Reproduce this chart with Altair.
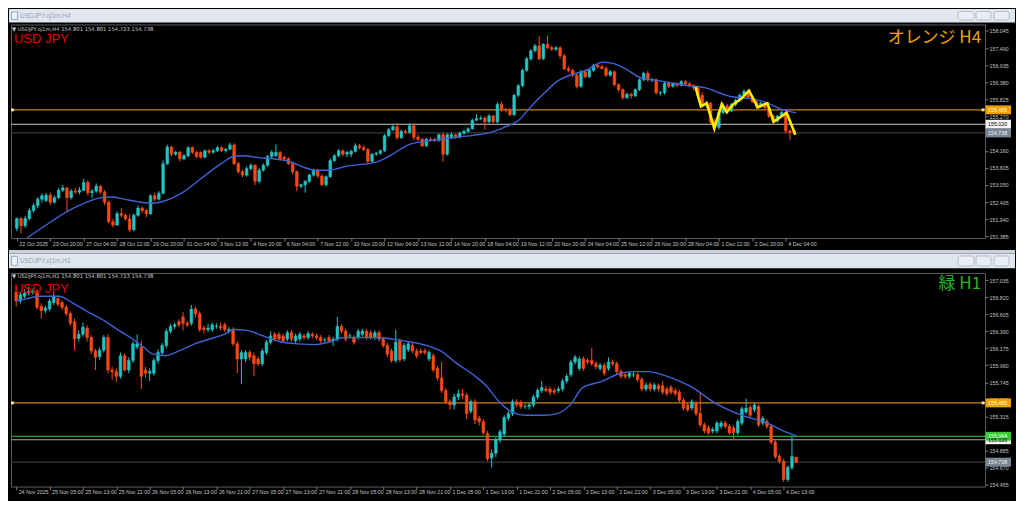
import altair as alt
import pandas as pd

# ---------------- H4 panel (top) ----------------
h4_open = [
151.65,151.96,151.73,151.96,152.22,152.38,152.59,152.55,152.72,152.49,
152.64,152.88,152.95,152.64,152.85,152.82,152.88,153.13,152.80,152.85,
153.01,152.82,152.49,151.86,151.75,152.12,152.07,151.95,151.60,152.07,
152.30,152.22,152.12,152.70,152.59,152.78,153.74,154.28,154.05,154.11,
153.90,154.00,154.26,154.11,154.10,153.95,154.16,154.11,154.16,154.26,
154.16,154.21,154.35,153.74,153.48,153.37,153.58,153.69,153.17,153.53,
153.69,153.97,154.00,154.11,153.95,153.90,153.74,153.48,153.01,153.06,
153.17,153.37,153.53,153.34,153.06,153.32,153.84,154.00,154.16,154.05,
154.05,154.14,154.32,154.26,154.20,153.82,154.05,154.08,154.16,154.65,
154.84,154.94,154.58,154.79,154.76,154.97,154.60,154.53,154.32,154.53,
154.52,154.50,154.68,154.05,154.60,154.68,154.60,154.73,154.79,154.87,
155.15,155.20,155.22,155.10,155.29,155.10,155.67,155.49,155.48,155.33,
155.96,156.27,156.77,157.14,157.40,157.56,157.14,157.61,157.50,157.45,
157.50,157.24,156.82,156.77,156.61,156.25,156.72,156.56,156.77,156.93,
156.88,156.83,156.61,156.72,156.30,156.14,155.88,155.99,155.94,156.14,
156.46,156.67,156.46,156.46,156.04,156.04,156.35,156.25,156.33,156.28,
156.40,156.33,156.28,156.20,155.95,155.65,155.70,155.10,154.92,155.40,
155.62,155.45,155.66,155.80,155.96,156.08,155.90,155.75,155.60,155.70,
155.55,155.28,155.12,155.28,155.40,154.80,154.801]
h4_high = [
152.00,152.00,152.05,152.30,152.45,152.65,152.78,152.80,152.80,152.70,
152.95,153.05,153.00,152.92,152.95,152.98,153.25,153.20,152.92,153.10,
153.05,152.88,152.55,151.95,152.20,152.30,152.12,152.10,152.12,152.38,
152.35,152.28,152.75,152.80,152.85,153.85,154.36,154.32,154.15,154.15,
154.05,154.30,154.30,154.15,154.14,154.20,154.20,154.22,154.32,154.30,
154.25,154.42,154.40,153.80,153.55,153.65,153.75,153.72,153.60,153.75,
154.02,154.18,154.37,154.15,154.00,153.95,153.78,153.52,153.10,153.20,
153.42,153.58,153.56,153.40,153.36,153.92,154.05,154.22,154.20,154.15,
154.20,154.40,154.38,154.34,154.25,154.08,154.12,154.20,154.70,154.90,
155.00,155.05,154.85,154.85,155.05,155.00,154.68,154.58,154.58,154.60,
154.58,154.72,154.75,154.72,154.75,154.72,154.78,154.84,154.92,155.20,
155.35,155.30,155.28,155.35,155.32,155.72,155.75,155.55,155.55,156.00,
156.32,156.82,157.20,157.45,157.62,157.87,157.65,157.90,157.56,157.55,
157.55,157.30,156.90,156.82,156.66,156.78,156.80,156.82,156.98,157.00,
156.95,156.90,156.78,156.76,156.35,156.18,156.05,156.04,156.18,156.50,
156.72,156.75,156.52,156.50,156.10,156.40,156.40,156.38,156.38,156.45,
156.44,156.38,156.32,156.28,156.05,155.78,155.74,155.20,155.45,155.70,
155.68,155.72,155.85,156.02,156.15,156.12,155.95,155.80,155.75,155.74,
155.60,155.35,155.32,155.45,155.44,154.85,154.801]
h4_low = [
151.55,151.49,151.66,151.90,152.15,152.30,152.48,152.50,152.40,152.45,
152.60,152.82,152.17,152.58,152.76,152.75,152.85,152.70,152.62,152.80,
152.75,152.40,151.80,151.68,151.72,152.00,151.90,151.52,151.55,152.02,
152.15,152.00,152.08,152.52,152.55,152.75,153.70,153.98,154.00,153.82,
153.85,153.95,154.05,153.92,153.90,153.92,154.05,154.06,154.12,154.12,
154.10,154.18,153.70,153.42,153.30,153.32,153.52,153.05,153.10,153.48,
153.64,153.92,153.96,153.85,153.85,153.70,153.40,152.85,152.95,152.80,
153.12,153.32,153.28,153.02,153.00,153.28,153.80,153.95,153.98,153.95,
153.95,154.10,154.20,154.15,153.72,153.78,154.00,154.03,154.12,154.60,
154.80,154.52,154.55,154.70,154.70,154.50,154.48,154.28,154.28,154.45,
154.44,154.45,153.80,154.00,154.55,154.55,154.56,154.68,154.74,154.85,
155.12,155.15,154.84,155.05,155.05,155.05,155.42,155.40,155.28,155.28,
155.90,156.22,156.72,157.08,157.35,157.10,157.10,157.45,157.40,157.40,
157.15,156.78,156.72,156.55,156.18,156.20,156.50,156.52,156.72,156.84,
156.80,156.55,156.56,156.25,156.08,155.82,155.84,155.85,155.90,156.10,
156.42,156.40,156.38,155.98,155.95,155.98,156.20,156.20,156.22,156.24,
156.28,156.22,156.12,155.90,155.58,155.55,155.02,154.78,154.85,155.35,
155.40,155.42,155.60,155.75,155.90,155.85,155.70,155.52,155.55,155.50,
155.22,155.00,155.08,155.24,154.72,154.50,154.723]
h4_close = [
151.96,151.73,151.96,152.22,152.38,152.59,152.70,152.72,152.49,152.64,
152.88,152.95,152.64,152.85,152.82,152.88,153.13,152.80,152.85,153.01,
152.82,152.49,151.86,151.75,152.12,152.07,151.95,151.60,152.07,152.30,
152.22,152.12,152.70,152.59,152.78,153.74,154.28,154.05,154.11,153.90,
154.00,154.26,154.11,153.97,153.95,154.16,154.11,154.16,154.26,154.16,
154.21,154.35,153.74,153.48,153.37,153.58,153.69,153.17,153.53,153.69,
153.97,154.11,154.11,153.90,153.90,153.74,153.48,153.01,153.06,153.17,
153.37,153.53,153.34,153.06,153.32,153.84,154.00,154.16,154.05,154.11,
154.14,154.32,154.26,154.20,153.82,154.05,154.08,154.16,154.65,154.84,
154.94,154.58,154.79,154.76,154.97,154.60,154.53,154.32,154.53,154.52,
154.50,154.68,154.05,154.68,154.68,154.60,154.73,154.79,154.87,155.15,
155.20,155.22,155.10,155.29,155.10,155.67,155.49,155.48,155.33,155.96,
156.27,156.77,157.14,157.40,157.56,157.14,157.61,157.50,157.45,157.50,
157.24,156.82,156.77,156.61,156.25,156.72,156.56,156.77,156.93,156.88,
156.83,156.61,156.72,156.30,156.14,155.88,155.99,155.94,156.14,156.46,
156.67,156.46,156.46,156.04,156.04,156.35,156.25,156.33,156.28,156.40,
156.33,156.28,156.20,155.95,155.65,155.70,155.10,154.92,155.40,155.62,
155.45,155.66,155.80,155.96,156.08,155.90,155.75,155.60,155.70,155.55,
155.28,155.12,155.28,155.40,154.80,154.75,154.738]

h4_ma_i = [2.5, 7.1, 11.8, 14.8, 20.3, 22.6, 25.7, 28.8, 31.9, 34.2, 39.6, 44.2, 48.9, 52.0,
           54.3, 58.2, 61.3, 65.1, 69.0, 71.3, 74.4, 76.7, 78.3, 86.0, 89.9, 93.7, 97.6, 101.5,
           105.3, 109.2, 113.8, 117.0, 120.1, 123.2, 126.3, 129.3, 132.4, 136.3, 140.1, 142.4,
           145.6, 149.5, 153.3, 157.2, 161.8, 164.9, 168.0, 171.1, 175.7, 179.6, 182.7, 186.5]
h4_ma_p = [151.34, 151.76, 152.17, 152.38, 152.64, 152.66, 152.59, 152.51, 152.46, 152.49,
           152.80, 153.27, 153.74, 153.98, 154.00, 153.93, 153.90, 153.82, 153.61, 153.53,
           153.53, 153.58, 153.64, 153.79, 154.05, 154.35, 154.47, 154.53, 154.60, 154.66,
           154.77, 154.94, 155.15, 155.62, 156.04, 156.41, 156.61, 156.77, 157.03, 157.00,
           156.82, 156.51, 156.44, 156.35, 156.25, 156.20, 156.04, 155.91, 155.85, 155.71,
           155.52, 155.39]

zigzag_i = [162.4, 163.7, 165.1, 166.9, 168.7, 169.9, 171.5, 173.4, 175.2, 177.3, 179.6, 181.1, 184.2, 186.3]
zigzag_p = [156.23, 155.60, 155.70, 154.89, 155.67, 155.41, 155.67, 155.85, 156.11, 155.57, 155.70, 155.10, 155.39, 154.68]

h4_xlabels = ["22 Oct 2025", "23 Oct 20:00", "27 Oct 04:00", "28 Oct 12:00", "29 Oct 20:00",
              "31 Oct 04:00", "3 Nov 12:00", "4 Nov 20:00", "6 Nov 04:00", "7 Nov 12:00",
              "10 Nov 20:00", "12 Nov 04:00", "13 Nov 12:00", "14 Nov 20:00", "18 Nov 04:00",
              "19 Nov 12:00", "20 Nov 20:00", "24 Nov 04:00", "25 Nov 12:00", "26 Nov 20:00",
              "28 Nov 04:00", "1 Dec 12:00", "2 Dec 20:00", "4 Dec 04:00"]
h4_yticks = [158.045, 157.490, 156.935, 156.380, 155.825, 155.270, 154.160, 153.605,
             153.050, 152.495, 151.940, 151.385]
h4_levels = [155.485, 155.020, 154.738]
h4_level_colors = ["#c8820a", "#c8c8c8", "#3a3a3a"]
h4_box_prices = [155.485, 155.020, 154.738]
h4_box_fill = ["#f0a000", "#f4f4f4", "#788696"]
h4_box_textcol = ["#fff6dd", "#000000", "#eeeeee"]

# ---------------- H1 panel (bottom) ----------------
h1_open = [
156.88,156.77,156.83,156.87,156.88,156.89,156.70,156.65,156.67,156.75,
156.80,156.75,156.69,156.61,156.51,156.30,156.35,156.43,156.31,156.14,
156.07,156.15,156.31,155.90,155.88,155.82,156.08,155.90,156.02,156.19,
156.19,155.90,155.86,155.86,156.02,156.12,156.21,156.39,156.45,156.51,
156.57,156.49,156.49,156.67,156.61,156.43,156.41,156.41,156.45,156.45,
156.47,156.39,156.41,156.23,156.04,156.04,156.12,156.08,156.04,155.98,
156.12,156.25,156.35,156.35,156.33,156.29,156.37,156.27,156.29,156.33,
156.31,156.35,156.33,156.31,156.28,156.31,156.27,156.29,156.45,156.39,
156.33,156.31,156.31,156.35,156.39,156.37,156.31,156.37,156.29,156.21,
156.14,156.02,156.27,156.04,156.16,156.21,156.14,156.14,156.14,156.04,
156.08,155.92,155.80,155.64,155.50,155.46,155.56,155.60,155.58,155.38,
155.50,155.29,155.25,155.10,154.79,154.85,155.02,155.09,155.29,155.35,
155.50,155.49,155.44,155.44,155.46,155.56,155.64,155.66,155.66,155.64,
155.64,155.66,155.76,155.84,156.00,155.92,156.04,156.02,156.02,155.98,
155.92,155.96,155.92,156.00,155.98,155.88,155.84,155.82,155.84,155.84,
155.78,155.66,155.72,155.66,155.70,155.70,155.66,155.68,155.64,155.62,
155.52,155.46,155.42,155.48,155.35,155.21,155.17,155.13,155.13,155.19,
155.23,155.19,155.17,155.11,155.23,155.37,155.43,155.40,155.44,155.23,
155.25,155.19,154.99,154.81,154.75,154.52,154.67,154.801]
h1_high = [
156.95,156.88,156.92,156.95,156.93,156.92,156.74,156.71,156.80,156.87,
156.84,156.78,156.72,156.64,156.55,156.40,156.50,156.46,156.34,156.17,
156.18,156.34,156.35,155.94,155.92,156.12,156.11,156.06,156.26,156.35,
156.27,155.94,155.92,156.05,156.16,156.24,156.42,156.48,156.50,156.54,
156.63,156.52,156.72,156.70,156.64,156.46,156.48,156.50,156.49,156.50,
156.50,156.44,156.44,156.26,156.15,156.15,156.15,156.12,156.07,156.17,
156.28,156.39,156.38,156.38,156.36,156.40,156.40,156.36,156.38,156.36,
156.39,156.38,156.36,156.34,156.31,156.34,156.32,156.57,156.48,156.42,
156.36,156.34,156.42,156.42,156.42,156.40,156.40,156.40,156.32,156.24,
156.17,156.41,156.30,156.24,156.26,156.24,156.17,156.17,156.17,156.15,
156.11,155.95,156.00,155.67,155.53,155.60,155.65,155.66,155.61,155.53,
155.53,155.32,155.28,155.13,154.90,155.05,155.15,155.33,155.38,155.53,
155.53,155.52,155.47,155.49,155.59,155.67,155.76,155.70,155.69,155.67,
155.69,155.79,155.85,156.03,156.09,156.07,156.07,156.05,156.18,156.01,
155.99,155.99,156.06,156.03,156.01,155.91,155.87,155.89,155.87,155.87,
155.81,155.74,155.75,155.74,155.73,155.76,155.69,155.71,155.67,155.65,
155.55,155.49,155.53,155.51,155.62,155.24,155.20,155.18,155.26,155.26,
155.26,155.22,155.20,155.28,155.44,155.54,155.46,155.49,155.47,155.32,
155.28,155.22,155.02,154.84,154.78,154.70,155.07,154.801]
h1_low = [
156.70,156.74,156.80,156.84,156.85,156.66,156.55,156.62,156.64,156.72,
156.70,156.66,156.58,156.46,156.15,156.26,156.32,156.26,156.10,155.90,
156.03,156.12,155.86,155.78,155.75,155.79,155.88,155.86,155.99,156.16,
155.66,155.80,155.76,155.83,155.98,156.08,156.18,156.36,156.42,156.44,
156.40,156.44,156.46,156.56,156.38,156.36,156.38,156.38,156.42,156.40,
156.38,156.36,156.20,155.86,155.72,156.00,156.02,155.82,155.95,155.95,
156.09,156.22,156.26,156.26,156.24,156.26,156.26,156.24,156.26,156.28,
156.28,156.30,156.28,156.24,156.25,156.24,156.20,156.26,156.36,156.26,
156.30,156.22,156.28,156.32,156.28,156.28,156.28,156.26,156.18,156.06,
155.99,155.99,156.00,156.01,156.13,156.11,156.05,156.10,156.09,156.01,
155.87,155.77,155.61,155.47,155.40,155.40,155.52,155.54,155.28,155.35,
155.22,155.20,155.08,154.75,154.67,154.80,154.98,155.06,155.26,155.32,
155.43,155.41,155.41,155.40,155.43,155.53,155.61,155.62,155.58,155.59,
155.61,155.63,155.73,155.81,155.97,155.89,155.89,155.97,155.95,155.91,
155.89,155.83,155.89,155.95,155.85,155.79,155.79,155.79,155.81,155.75,
155.63,155.63,155.63,155.63,155.63,155.59,155.57,155.59,155.57,155.49,
155.39,155.37,155.39,155.32,155.18,155.10,155.08,155.10,155.10,155.16,
155.16,155.08,155.03,155.08,155.20,155.34,155.30,155.37,155.18,155.20,
155.16,154.96,154.78,154.72,154.49,154.49,154.64,154.723]
h1_close = [
156.77,156.85,156.87,156.89,156.89,156.69,156.65,156.68,156.77,156.83,
156.73,156.69,156.61,156.49,156.29,156.35,156.44,156.31,156.14,156.06,
156.15,156.31,155.90,155.88,155.82,156.08,155.90,156.02,156.23,156.23,
155.82,155.86,155.88,156.02,156.12,156.21,156.39,156.45,156.47,156.47,
156.49,156.47,156.67,156.61,156.41,156.41,156.43,156.47,156.45,156.43,
156.41,156.41,156.23,156.04,156.12,156.12,156.06,155.98,155.98,156.14,
156.25,156.33,156.29,156.29,156.27,156.37,156.29,156.33,156.35,156.31,
156.36,156.33,156.31,156.27,156.28,156.27,156.29,156.45,156.39,156.29,
156.33,156.25,156.39,156.39,156.31,156.31,156.37,156.29,156.21,156.10,
156.02,156.25,156.03,156.21,156.23,156.14,156.08,156.12,156.12,156.12,
155.90,155.80,155.64,155.50,155.46,155.56,155.60,155.58,155.35,155.50,
155.27,155.25,155.11,154.78,154.85,155.02,155.12,155.30,155.35,155.50,
155.46,155.44,155.44,155.46,155.56,155.64,155.68,155.64,155.62,155.62,
155.66,155.76,155.82,156.00,156.06,156.04,155.92,156.00,155.98,155.94,
155.96,155.86,156.00,155.98,155.88,155.82,155.82,155.86,155.84,155.78,
155.66,155.71,155.66,155.71,155.66,155.62,155.60,155.62,155.60,155.52,
155.42,155.40,155.50,155.35,155.21,155.13,155.11,155.15,155.23,155.23,
155.19,155.11,155.11,155.25,155.41,155.42,155.33,155.46,155.21,155.29,
155.19,154.99,154.81,154.75,154.52,154.67,154.81,154.738]

h1_ma_i = [0.0, 2.6, 5.7, 10.3, 13.4, 17.3, 21.2, 24.3, 27.4, 30.5, 32.8, 35.9, 39.0, 42.8,
           47.6, 49.9, 52.2, 55.3, 59.2, 63.1, 67.7, 71.6, 75.5, 78.6, 86.3, 92.5, 98.7, 101.8,
           105.7, 109.6, 112.7, 115.8, 118.9, 122.0, 126.6, 129.7, 132.8, 135.9, 140.6, 144.4,
           148.3, 151.4, 156.1, 161.5, 167.7, 173.9, 180.1, 184.0, 187.1]
h1_ma_p = [156.77, 156.80, 156.83, 156.83, 156.75, 156.63, 156.52, 156.41, 156.31, 156.19,
           156.10, 156.08, 156.14, 156.23, 156.31, 156.35, 156.41, 156.40, 156.33, 156.26,
           156.23, 156.22, 156.26, 156.31, 156.31, 156.27, 156.205, 156.14, 155.98, 155.84,
           155.70, 155.50, 155.37, 155.33, 155.33, 155.35, 155.46, 155.68, 155.76, 155.85,
           155.88, 155.88, 155.82, 155.70, 155.48, 155.33, 155.23, 155.13, 155.07]

h1_xlabels = ["24 Nov 2025", "25 Nov 05:00", "25 Nov 13:00", "25 Nov 21:00", "26 Nov 05:00",
              "26 Nov 13:00", "26 Nov 21:00", "27 Nov 05:00", "27 Nov 13:00", "27 Nov 21:00",
              "28 Nov 05:00", "28 Nov 13:00", "28 Nov 21:00", "1 Dec 05:00", "1 Dec 13:00",
              "1 Dec 21:00", "2 Dec 05:00", "2 Dec 13:00", "2 Dec 21:00", "3 Dec 05:00",
              "3 Dec 13:00", "3 Dec 21:00", "4 Dec 05:00", "4 Dec 13:00"]
h1_yticks = [157.035, 156.820, 156.605, 156.390, 156.175, 155.960, 155.745, 155.530,
             155.315, 155.100, 154.885, 154.670, 154.455]
h1_levels = [155.485, 155.064, 155.020, 154.738]
h1_level_colors = ["#c8820a", "#22a522", "#a8a8a8", "#3a3a3a"]
h1_box_prices = [155.485, 155.020, 155.064, 154.738]
h1_box_fill = ["#f0a000", "#f4f4f4", "#33cc33", "#788696"]
h1_box_textcol = ["#fff6dd", "#000000", "#f0fff0", "#eeeeee"]

# ---------------- styling ----------------
W = 976
H_TOP = 214
H_BOT = 214
FONT = "Liberation Sans"
TEAL = "#22c4c4"
RED = "#ff4a12"
MA_COL = "#3f62d6"
CAPTION = "#dfe6ee"
STRIP = "#c9d1db"


def one():
    return pd.DataFrame({"d": [0]})


def deco_rect(x, x2, y, y2, fill, stroke=None, radius=0, opacity=1.0):
    kw = dict(fill=fill, fillOpacity=opacity)
    if stroke:
        kw.update(stroke=stroke, strokeWidth=0.8)
    if radius:
        kw.update(cornerRadius=radius)
    return alt.Chart(one()).mark_rect(**kw).encode(
        x=alt.value(x), x2=alt.value(x2), y=alt.value(y), y2=alt.value(y2))


def deco_text(txt, x, y, size, color, font=FONT, align="left"):
    return alt.Chart(one()).mark_text(
        text=txt, fontSize=size, color=color, font=font, align=align, baseline="middle"
    ).encode(x=alt.value(x), y=alt.value(y))


def panel(o, h, l, c, ma_i, ma_p, xdom, ydom, yticks, xlabels, levels, level_cols,
          box_p, box_fill, box_tc, box_half, H, caption, header, tf_text, tf_color,
          cap_top, cap_bottom, strip_top, black_bottom, header_y, usd_y, tf_y, btn_y,
          zz_i=None, zz_p=None):
    n = min(len(o), len(h), len(l), len(c))
    df = pd.DataFrame({
        "i": list(range(n)), "o": o[:n], "h": h[:n], "l": l[:n], "c": c[:n],
        "dir": ["up" if c[k] >= o[k] else "down" for k in range(n)],
    })
    xscale = alt.Scale(domain=xdom, nice=False, zero=False)
    yscale = alt.Scale(domain=ydom, nice=False, zero=False)
    label_expr = "[" + ",".join("'" + s + "'" for s in xlabels) + "][round(datum.value/8)]"
    xaxis = alt.Axis(values=[8 * k for k in range(len(xlabels))], labelExpr=label_expr,
                     title=None, grid=False, domain=False, tickColor="#7a7a7a", tickSize=3,
                     labelColor="#c4c4c4", labelFont=FONT, labelFontSize=5.3,
                     labelAlign="left", labelBaseline="top", labelPadding=0, labelOffset=2,
                     labelOverlap=False, labelFlush=False, labelBound=False)
    yaxis = alt.Axis(values=yticks, format=".3f", orient="right", title=None, grid=False,
                     domain=False, tickColor="#7a7a7a", tickSize=3, labelColor="#c4c4c4",
                     labelFont=FONT, labelFontSize=5.3, labelPadding=1, labelAlign="left",
                     labelBaseline="middle", labelOverlap=False, labelFlush=False,
                     labelBound=False)

    def X(f):
        return alt.X(f, type="quantitative", scale=xscale, axis=xaxis)

    def Y(f):
        return alt.Y(f, type="quantitative", scale=yscale, axis=yaxis)

    col = alt.Color("dir:N", scale=alt.Scale(domain=["up", "down"], range=[TEAL, RED]), legend=None)
    stk = alt.Stroke("dir:N", scale=alt.Scale(domain=["up", "down"], range=[TEAL, RED]), legend=None)

    layers = []
    # bounds + caption chrome
    layers.append(deco_rect(-2, W + 30, strip_top, black_bottom, "#000000", opacity=0))
    if strip_top < cap_top:
        layers.append(deco_rect(-2, W + 30, strip_top, cap_top, STRIP))
    layers.append(deco_rect(-2, W + 30, cap_top, cap_bottom, CAPTION))
    layers.append(deco_rect(0.5, 6.5, cap_top + 3, cap_bottom - 3, "#eef3f8", stroke="#7f9cc4"))
    layers.append(deco_text(caption, 9, (cap_top + cap_bottom) / 2, 6.5, "#9aa4b2"))
    for bx in [(949, 965), (967, 982), (985, 1000)]:
        layers.append(deco_rect(bx[0], bx[1], btn_y[0], btn_y[1], "#e9eef4", stroke="#a9b3bf", radius=2))

    # horizontal levels
    lv = pd.DataFrame({"p": levels, "col": level_cols})
    layers.append(alt.Chart(lv).mark_rule(strokeWidth=1.2).encode(
        y=Y("p"), color=alt.Color("col:N", scale=None)))

    # candles
    base = alt.Chart(df)
    layers.append(base.mark_rule(strokeWidth=1, clip=True).encode(
        x=X("i"), y=Y("l"), y2=alt.Y2("h"), color=col))
    layers.append(base.mark_bar(width=2.6, strokeWidth=0.6, clip=True).encode(
        x=X("i"), y=Y("o"), y2=alt.Y2("c"), color=col, stroke=stk))

    # moving average
    ma = pd.DataFrame({"i": ma_i, "p": ma_p})
    layers.append(alt.Chart(ma).mark_line(color=MA_COL, strokeWidth=1.4, interpolate="monotone",
                                          clip=True).encode(x=X("i"), y=Y("p")))

    if zz_i is not None:
        zz = pd.DataFrame({"i": zz_i, "p": zz_p, "k": list(range(len(zz_i)))})
        layers.append(alt.Chart(zz).mark_line(color="#ffee00", strokeWidth=2.6, clip=True).encode(
            x=X("i"), y=Y("p"), order="k:Q"))

    # texts
    layers.append(deco_text(header, 1, header_y, 5.3, "#c8c8c8", font="DejaVu Sans"))
    layers.append(deco_text("USD JPY", 3, usd_y, 13, "#e00000"))
    layers.append(deco_text(tf_text, 972, tf_y, 17, tf_color, font="Noto Sans CJK JP", align="right"))

    # line end squares on the orange level
    sq = pd.DataFrame({"p": [levels[0]]})
    for sx in [1.5, W - 2]:
        layers.append(alt.Chart(sq).mark_square(size=8, color="#ffe8a8", opacity=1).encode(
            x=alt.value(sx), y=Y("p")))

    # price boxes on the right scale
    bx = pd.DataFrame({
        "p": box_p,
        "p_hi": [v + box_half for v in box_p],
        "p_lo": [v - box_half for v in box_p],
        "fill": box_fill,
        "tc": box_tc,
        "label": ["%.3f" % v for v in box_p],
    })
    layers.append(alt.Chart(bx).mark_rect().encode(
        x=alt.value(W + 0.5), x2=alt.value(W + 26), y=Y("p_hi"), y2=alt.Y2("p_lo"),
        color=alt.Color("fill:N", scale=None)))
    layers.append(alt.Chart(bx).mark_text(align="left", baseline="middle", fontSize=5.3,
                                          font=FONT).encode(
        x=alt.value(W + 3), y=Y("p"), text="label:N", color=alt.Color("tc:N", scale=None)))

    return alt.layer(*layers).properties(width=W, height=H)


top = panel(h4_open, h4_high, h4_low, h4_close, h4_ma_i, h4_ma_p,
            [-0.2, 230.5], [151.33, 158.255], h4_yticks, h4_xlabels,
            h4_levels, h4_level_colors, h4_box_prices, h4_box_fill, h4_box_textcol, 0.145,
            H_TOP, "USDJPY.oj1m,H4",
            "\u25bc USDJPY.oj1m,H4  154.801 154.801 154.723 154.738",
            "オレンジ H4", "#f2a000",
            cap_top=-15.5, cap_bottom=-2, strip_top=-15.5, black_bottom=223.6,
            header_y=4.5, usd_y=14.5, tf_y=13.5, btn_y=(-13, -4.5),
            zz_i=zigzag_i, zz_p=zigzag_p)

bottom = panel(h1_open, h1_high, h1_low, h1_close, h1_ma_i, h1_ma_p,
               [-0.05, 231.1], [154.43, 157.124], h1_yticks, h1_xlabels,
               h1_levels, h1_level_colors, h1_box_prices, h1_box_fill, h1_box_textcol, 0.056,
               H_BOT, "USDJPY.oj1m,H1",
               "\u25bc USDJPY.oj1m,H1  154.801 154.801 154.723 154.738",
               "緑 H1", "#28b428",
               cap_top=-19.6, cap_bottom=-4.6, strip_top=-23.0, black_bottom=227,
               header_y=3.5, usd_y=15.8, tf_y=11, btn_y=(-17.0, -7))

chart = alt.vconcat(top, bottom, spacing=0).properties(
    background="#000000", padding=0
).configure_view(stroke="#5c5c5c", strokeWidth=1)

chart.save("out.html", embed_options={"renderer": "svg", "actions": False})
